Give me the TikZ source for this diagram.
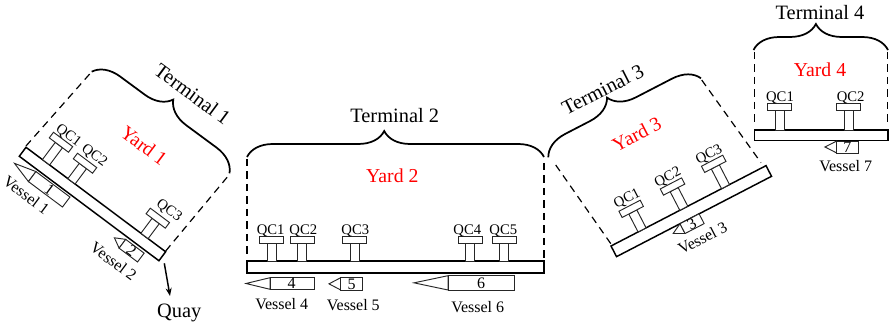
\documentclass[tikz,border=0pt]{standalone}
\usepackage{fontspec}
\setmainfont{Liberation Serif}
\usetikzlibrary{arrows.meta, decorations.pathreplacing}
\tikzset{
  quay/.style={draw, line width=1.1pt, fill=white},
  yardedge/.style={draw, line width=0.9pt, dash pattern=on 5.5pt off 4pt},
  yarddash/.style={draw, line width=0.9pt},
  termbrace/.style={draw, line width=1.3pt, decorate, decoration={brace, amplitude=19.5pt, aspect=#1}},
  craneline/.style={draw=black!85, line width=0.7pt, fill=white},
  vesselline/.style={draw=black!85, line width=0.7pt, fill=white},
  termlabel/.style={font=\fontsize{15.3}{18}\selectfont, inner sep=0pt},
  yardlabel/.style={font=\fontsize{14.8}{17}\selectfont, text=red, inner sep=0pt},
  qclabel/.style={font=\fontsize{11}{13}\selectfont, inner sep=0pt, transform shape},
  vessellabel/.style={font=\fontsize{12}{14}\selectfont, inner sep=0pt, transform shape},
}
\begin{document}
\begin{tikzpicture}[x=0.75pt, y=-0.75pt]
  \useasboundingbox (0,0) rectangle (889,327);
  % terminal 1
  \coordinate (t1a) at (91.7,71.7);
  \coordinate (t1b) at (229.5,173.3);
  \draw[termbrace=0.48] (t1a) -- (t1b);
  \draw[yardedge] (26,146) -- (t1a);
  \draw[yardedge] (165.7,251) -- (229,175);
  \node[termlabel, rotate=-36.5] (term1) at (192.7,94) {Terminal 1};
  \node[yardlabel, rotate=-37] (yard1) at (144,145.7) {Yard 1};
  \begin{scope}[shift={(26,147.3)}, rotate=-36.8]
    \draw[quay] (0,0) rectangle (174.4,11.2);
    \foreach \n/\cx/\p/\lx/\lp in {1/25/25/27/34.7, 2/56.8/22.6/59.8/34, 3/148/22.2/152.6/34.8} {
      \draw[craneline] (\cx-4.5,-\p+3.5) rectangle (\cx+4.5,0);
      \draw[craneline] (\cx-12,-\p-3.5) rectangle (\cx+12,-\p+3.5);
      \node[qclabel] (t1qc\n) at (\lx,-\lp) {QC\n};
    }
    \foreach \v/\xa/\xb/\xc/\ya/\yb/\xd/\xl/\yl in {1/0.4/22.5/65/13.5/26/44/29/38, 2/125/135/158/14/25/146.2/138.5/39} {
      \draw[vesselline] (\xa,{(\ya+\yb)/2}) -- (\xb,\ya) -- (\xb,\yb) -- cycle;
      \draw[vesselline] (\xb,\ya) rectangle (\xc,\yb);
      \node[vessellabel] (t1d\v) at (\xd,{(\ya+\yb)/2}) {\v};
      \node[vessellabel] (t1v\v) at (\xl,\yl) {Vessel \v};
    }
  \end{scope}
  \node[termlabel] (quaylabel) at (179.3,312.7) {Quay};
  \coordinate (quayfrom) at (164.3,263.3);
  \coordinate (quayto) at (170,296);
  \draw[-{Stealth[length=6pt,width=4.5pt]}, line width=1.1pt] (quayfrom) -- (quayto);
  % terminal 2
  \coordinate (t2a) at (247,157);
  \coordinate (t2b) at (544,157);
  \draw[termbrace=0.462] (t2a) -- (t2b);
  \foreach \y in {159,171.5,...,255} {
    \draw[yarddash] (247,\y) -- (247,\y+7.5);
    \draw[yarddash] (544,\y+4) -- (544,\y+11.5);
  }
  \node[termlabel] (term2) at (394.7,115.7) {Terminal 2};
  \node[yardlabel] (yard2) at (392.3,176) {Yard 2};
  \begin{scope}[shift={(247,261)}]
    \draw[quay] (0,0) rectangle (297,12);
    \foreach \n/\cx/\lx in {1/24.5/23.7, 2/55/56.3, 3/107.5/108.3, 4/223/220.3, 5/257/256.3} {
      \draw[craneline] (\cx-4.5,-17.5) rectangle (\cx+4.5,0);
      \draw[craneline] (\cx-12,-24.5) rectangle (\cx+12,-17.5);
      \node[qclabel] (t2qc\n) at (\lx,-30.3) {QC\n};
    }
    \foreach \v/\xa/\xb/\xc/\ya/\yb/\xd/\xl/\yl in {4/-1/23/67/16.7/28.3/44.7/34.7/43.3, 5/82/93.7/115.3/16.7/29/104.7/106.3/43.7, 6/167/201/267/14.7/29/234/230.7/46.3} {
      \draw[vesselline] (\xa,{(\ya+\yb)/2}) -- (\xb,\ya) -- (\xb,\yb) -- cycle;
      \draw[vesselline] (\xb,\ya) rectangle (\xc,\yb);
      \node[vessellabel] (t2d\v) at (\xd,{(\ya+\yb)/2}) {\v};
      \node[vessellabel] (t2v\v) at (\xl,\yl) {Vessel \v};
    }
  \end{scope}
  % terminal 3
  \coordinate (t3a) at (548.3,157.3);
  \coordinate (t3b) at (701,78.3);
  \draw[termbrace=0.463] (t3a) -- (t3b);
  \draw[yardedge] (555.7,165) -- (611,244);
  \draw[yardedge] (701.7,80) -- (761,162.7);
  \node[termlabel, rotate=27] (term3) at (602.7,89.3) {Terminal 3};
  \node[yardlabel, rotate=27.4] (yard3) at (636.7,134) {Yard 3};
  \begin{scope}[shift={(611,246)}, rotate=27.4]
    \draw[quay] (0,0) rectangle (174.6,12);
    \foreach \n/\cx/\p/\lx/\lp in {1/35/23.7/36/34.2, 2/82/24.5/82/34.5, 3/129/25.7/129/35.5} {
      \draw[craneline] (\cx-4.5,-\p+3.5) rectangle (\cx+4.5,0);
      \draw[craneline] (\cx-12,-\p-3.5) rectangle (\cx+12,-\p+3.5);
      \node[qclabel] (t3qc\n) at (\lx,-\lp) {QC\n};
    }
    \foreach \v/\xa/\xb/\xc/\ya/\yb/\xd/\xl/\yl in {3/61/71.5/93/12/23/82/85/35} {
      \draw[vesselline] (\xa,{(\ya+\yb)/2}) -- (\xb,\ya) -- (\xb,\yb) -- cycle;
      \draw[vesselline] (\xb,\ya) rectangle (\xc,\yb);
      \node[vessellabel] (t3d\v) at (\xd,{(\ya+\yb)/2}) {\v};
      \node[vessellabel] (t3v\v) at (\xl,\yl) {Vessel \v};
    }
  \end{scope}
  % terminal 4
  \coordinate (t4a) at (753.5,50);
  \coordinate (t4b) at (888,50);
  \draw[termbrace=0.464] (t4a) -- (t4b);
  \foreach \y in {52,64.5,...,125} {
    \draw[yarddash] (754.3,\y) -- (754.3,\y+7.5);
    \draw[yarddash] (887.7,\y) -- (887.7,\y+7.5);
  }
  \node[termlabel] (term4) at (820,12.7) {Terminal 4};
  \node[yardlabel] (yard4) at (820,70) {Yard 4};
  \begin{scope}[shift={(754.3,130)}]
    \draw[quay] (0,0) rectangle (133.7,10.7);
    \foreach \n/\cx/\lx in {1/25.2/25.7, 2/94.4/96.4} {
      \draw[craneline] (\cx-4.5,-19.3) rectangle (\cx+4.5,0);
      \draw[craneline] (\cx-12,-26.3) rectangle (\cx+12,-19.3);
      \node[qclabel] (t4qc\n) at (\lx,-32.5) {QC\n};
    }
    \foreach \v/\xa/\xb/\xc/\ya/\yb/\xd/\xl/\yl in {7/70.7/82.4/104/11/23/93/91.4/35.7} {
      \draw[vesselline] (\xa,{(\ya+\yb)/2}) -- (\xb,\ya) -- (\xb,\yb) -- cycle;
      \draw[vesselline] (\xb,\ya) rectangle (\xc,\yb);
      \node[vessellabel] (t4d\v) at (\xd,{(\ya+\yb)/2}) {\v};
      \node[vessellabel] (t4v\v) at (\xl,\yl) {Vessel \v};
    }
  \end{scope}
\end{tikzpicture}
\end{document}
